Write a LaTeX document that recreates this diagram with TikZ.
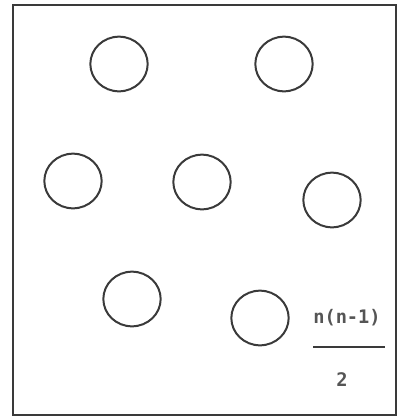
\documentclass[tikz,border=0pt]{standalone}
\usepackage{fontspec}
\newfontfamily\monofont{DejaVu Sans Mono}
\usepackage{tikz}
\usetikzlibrary{shapes.geometric,positioning}
\usepackage{xcolor}
\definecolor{inkgray}{HTML}{3A3A3A}
\definecolor{textgray}{HTML}{555555}

\tikzset{
  ring/.style={ellipse,draw=inkgray,line width=1.5pt,minimum width=43pt,minimum height=41pt,inner sep=0pt},
  label/.style={font=\monofont\bfseries\fontsize{14}{16}\selectfont,text=textgray,inner sep=0pt}
}

\begin{document}
\begin{tikzpicture}[x=0.75pt,y=-0.75pt]
\useasboundingbox (0,0) rectangle (398,418);
\draw[inkgray,line width=1.4pt] (13,5) rectangle (396,415);
% the seven rings
\node[ring] (c1) at (119,64){};
\node[ring] (c2) at (284,64){};
\node[ring] (c3) at (73,181){};
\node[ring] (c4) at (202,182){};
\node[ring] (c5) at (332,200){};
\node[ring] (c6) at (132,299){};
\node[ring] (c7) at (260,318){};
% the fraction
\node[label] (num) at (347,318){n(n-1)};
\node[label] (den) at (342,380){2};
\coordinate (barl) at (313,347);
\coordinate (barr) at (385,347);
\draw[inkgray,line width=1.2pt] (barl) -- (barr);
\end{tikzpicture}
\end{document}
